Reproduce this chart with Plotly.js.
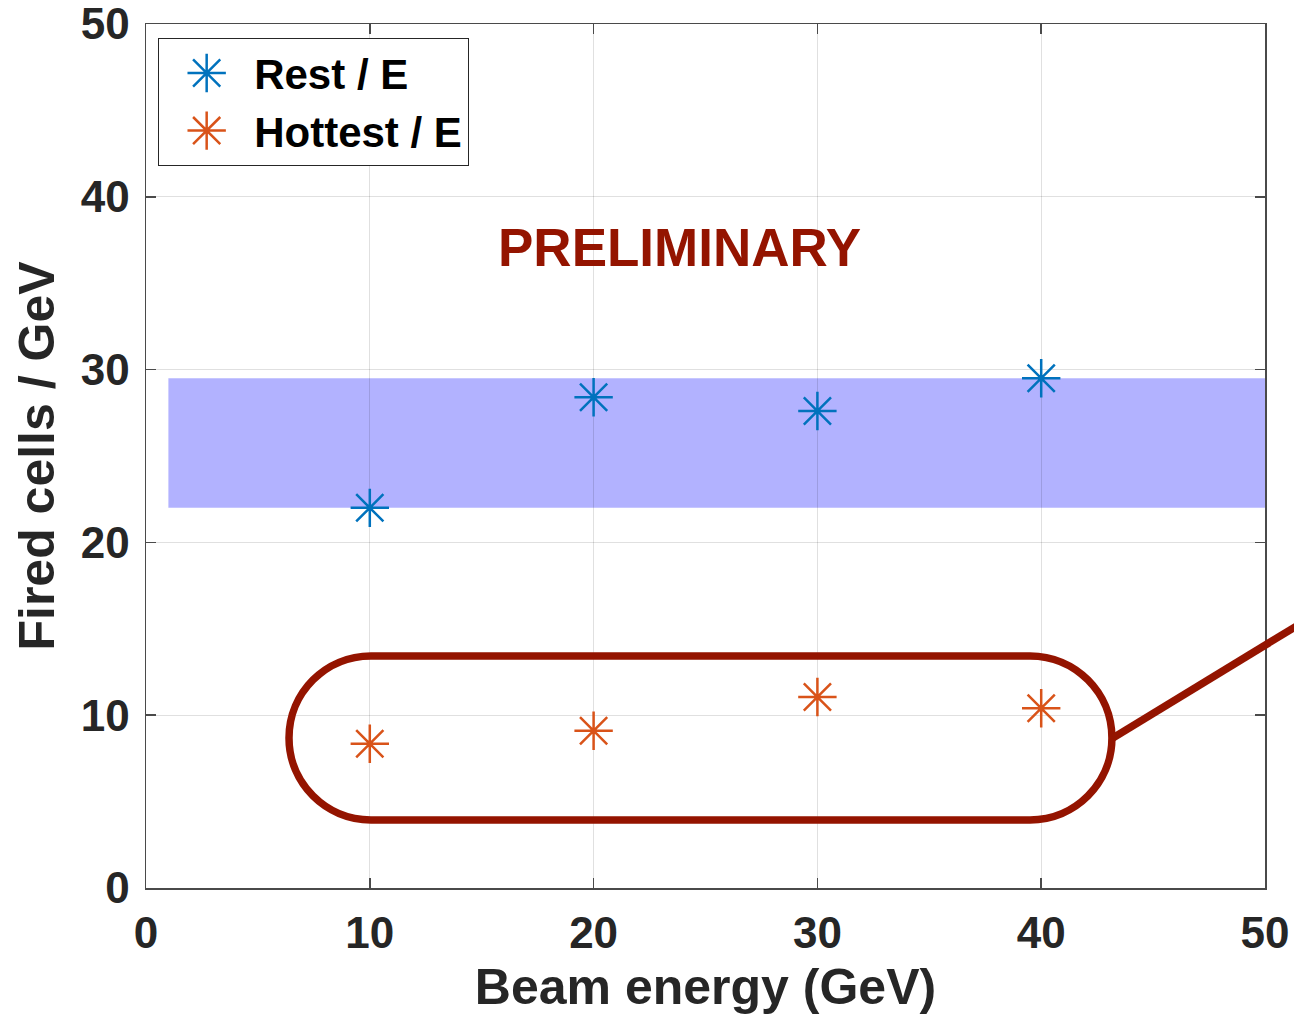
<!DOCTYPE html>
<html>
<head>
<meta charset="utf-8">
<script src="https://cdn.plot.ly/plotly-3.0.1.min.js"></script>
<style>html,body{margin:0;padding:0;background:#fff;}#chart{width:1294px;height:1019px;}</style>
</head>
<body>
<div id="chart"></div>
<script>
// ---- data ----
const beamEnergy = [10, 20, 30, 40];
const restPerE = [22.0, 28.4, 27.6, 29.5];
const hottestPerE = [8.35, 9.1, 11.05, 10.4];
const seriesNames = ['Rest / E', 'Hottest / E'];
const tickValsX = [0, 10, 20, 30, 40, 50];
const tickValsY = [0, 10, 20, 30, 40, 50];
const bandX = [1, 50];
const bandY = [22.0, 29.5];

// ---- styling constants ----
const FONT = 'Liberation Sans, Arial, Helvetica, sans-serif';
const BLUE = '#0072BD';
const ORANGE = '#D95319';
const RED = '#941400';
const AX = '#262626';

// highlight outline (rounded box) in data units
const box = {xl: 6.39, xr: 43.16, yt: 13.43, yb: 3.94, rx: 3.66};
function roundedBoxPath(b) {
  const k = 0.5523;
  const yc = (b.yt + b.yb) / 2, ry = (b.yt - b.yb) / 2, rx = b.rx;
  const p = [];
  p.push(`M${b.xl + rx},${b.yt}`);
  p.push(`L${b.xr - rx},${b.yt}`);
  p.push(`C${b.xr - rx + k * rx},${b.yt} ${b.xr},${yc + k * ry} ${b.xr},${yc}`);
  p.push(`C${b.xr},${yc - k * ry} ${b.xr - rx + k * rx},${b.yb} ${b.xr - rx},${b.yb}`);
  p.push(`L${b.xl + rx},${b.yb}`);
  p.push(`C${b.xl + rx - k * rx},${b.yb} ${b.xl},${yc - k * ry} ${b.xl},${yc}`);
  p.push(`C${b.xl},${yc + k * ry} ${b.xl + rx - k * rx},${b.yt} ${b.xl + rx},${b.yt}`);
  p.push('Z');
  return p.join(' ');
}

const traces = [
  {
    x: beamEnergy, y: restPerE, name: seriesNames[0], type: 'scatter', mode: 'markers',
    marker: {symbol: 'asterisk-open', size: 32, color: BLUE, line: {color: BLUE, width: 2.5}}
  },
  {
    x: beamEnergy, y: hottestPerE, name: seriesNames[1], type: 'scatter', mode: 'markers',
    marker: {symbol: 'asterisk-open', size: 32, color: ORANGE, line: {color: ORANGE, width: 2.5}}
  }
];

const axisCommon = {
  showline: true, linecolor: '#4a4a4a', linewidth: 1.5, mirror: 'ticks',
  ticks: 'inside', ticklen: 10, tickwidth: 1.5, tickcolor: '#4a4a4a',
  showgrid: true, gridcolor: 'rgba(0,0,0,0.12)', gridwidth: 1.2,
  zeroline: false, ticklabeloverflow: 'allow',
  tickfont: {family: FONT, size: 44, color: AX, weight: 'bold'}
};

const layout = {
  width: 1294, height: 1019,
  margin: {l: 146, r: 29, t: 24, b: 131},
  paper_bgcolor: '#ffffff', plot_bgcolor: '#ffffff',
  font: {family: FONT, color: AX},
  showlegend: true,
  xaxis: Object.assign({}, axisCommon, {
    range: [0, 50], tickvals: tickValsX, ticklabelstandoff: 6,
    title: {text: 'Beam energy (GeV)', font: {family: FONT, size: 50, color: AX, weight: 'bold'}, standoff: 12}
  }),
  yaxis: Object.assign({}, axisCommon, {
    range: [0, 50], tickvals: tickValsY, ticklabelstandoff: 6,
    title: {text: 'Fired cells / GeV', font: {family: FONT, size: 50, color: AX, weight: 'bold'}, standoff: 10}
  }),
  legend: {
    x: 0.0107, y: (888 - 38) / 864, xanchor: 'left', yanchor: 'top',
    bgcolor: '#ffffff', bordercolor: '#262626', borderwidth: 1.2,
    font: {family: FONT, size: 42, color: '#000', weight: 'bold'},
    itemwidth: 85, tracegroupgap: 0
  },
  shapes: [
    {type: 'rect', xref: 'x', yref: 'y', x0: bandX[0], x1: bandX[1], y0: bandY[0], y1: bandY[1],
     fillcolor: 'rgba(0,0,255,0.3)', line: {width: 0}, layer: 'below'},
    {type: 'path', xref: 'x', yref: 'y', path: roundedBoxPath(box),
     line: {color: RED, width: 7.5}, fillcolor: 'rgba(0,0,0,0)', layer: 'above'},
    {type: 'line', xref: 'paper', yref: 'paper', x0: 0.864, y0: 0.1736, x1: 1.04, y1: 0.3125,
     line: {color: RED, width: 7.5}, layer: 'above'}
  ],
  annotations: [
    {text: 'PRELIMINARY', xref: 'paper', yref: 'paper', x: (679 - 146) / 1119, y: (888 - 247) / 864,
     xanchor: 'center', yanchor: 'middle', showarrow: false,
     font: {family: FONT, size: 53, color: RED, weight: 'bold'}}
  ]
};

Plotly.newPlot('chart', traces, layout, {displayModeBar: false, staticPlot: true}).then(function (gd) {
  // enlarge legend symbols (Plotly caps them at 16px) to match the plot markers
  gd.querySelectorAll('.legend .legendpoints path.scatterpts').forEach(function (p) {
    const t = p.getAttribute('transform') || '';
    p.setAttribute('transform', t + ' scale(2)');
    p.style.strokeWidth = '1.25px';
  });
});
</script>
</body>
</html>
